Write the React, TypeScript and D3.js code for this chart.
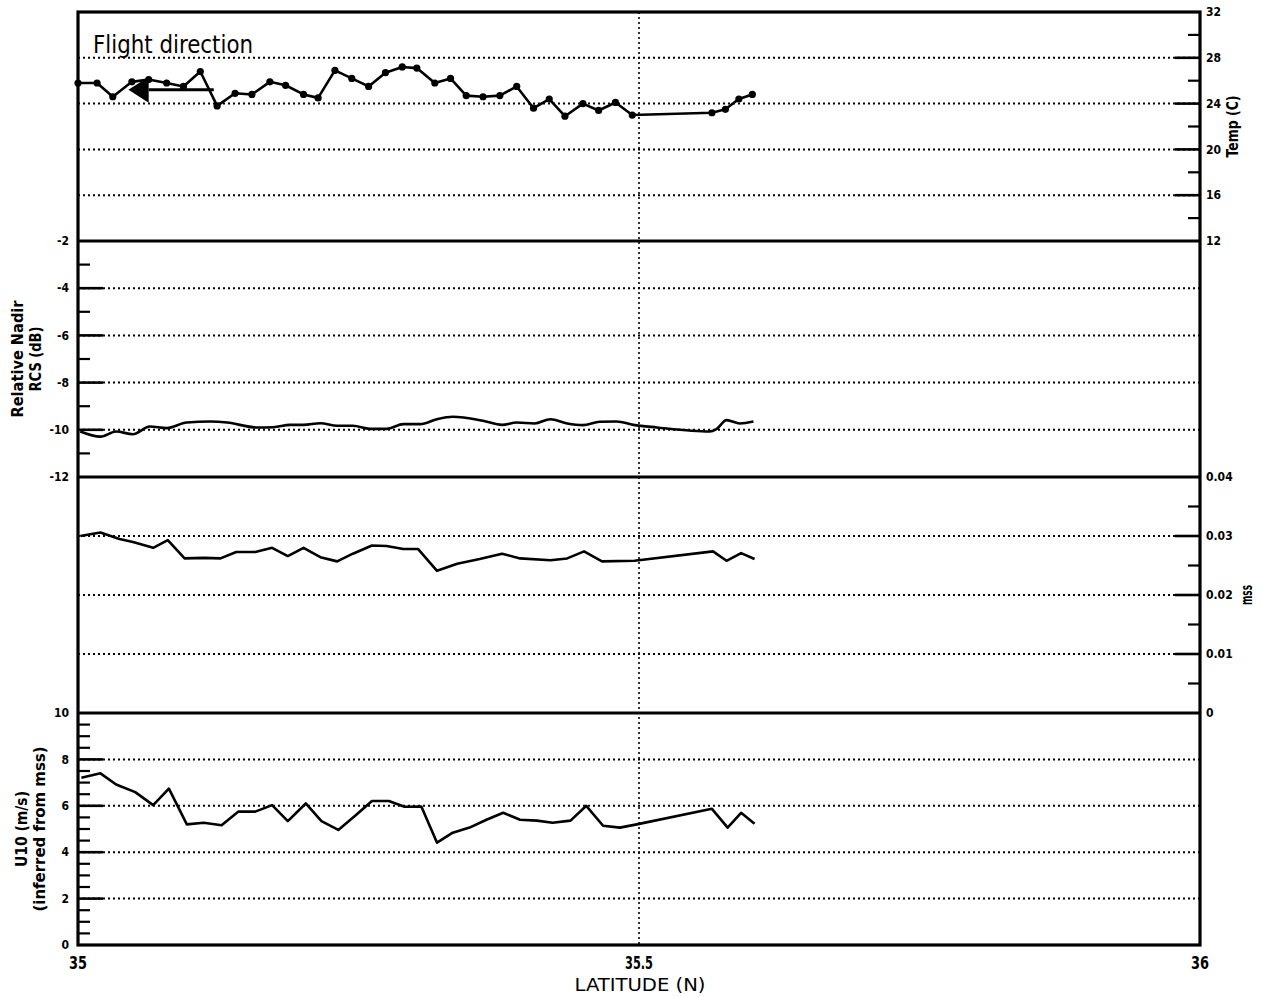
import React from "react";
import * as d3 from "d3";

// Sea surface temperature along the flight track (°C)
const tempLat = [35.0, 35.017, 35.031, 35.048, 35.063, 35.079, 35.094, 35.109, 35.124, 35.14, 35.155, 35.171, 35.185, 35.201, 35.214, 35.229, 35.244, 35.259, 35.274, 35.289, 35.302, 35.318, 35.332, 35.346, 35.361, 35.376, 35.391, 35.406, 35.42, 35.434, 35.45, 35.464, 35.479, 35.494, 35.565, 35.577, 35.589, 35.601];
const tempC = [25.8, 25.8, 24.6, 25.9, 26.1, 25.8, 25.5, 26.8, 23.8, 24.9, 24.8, 25.9, 25.6, 24.8, 24.5, 26.9, 26.2, 25.5, 26.7, 27.2, 27.1, 25.8, 26.2, 24.7, 24.6, 24.7, 25.5, 23.6, 24.4, 22.9, 24.0, 23.4, 24.1, 23.0, 23.2, 23.5, 24.4, 24.8];

// Relative nadir radar cross section (dB)
const rcsLat = [35.002, 35.02, 35.034, 35.049, 35.064, 35.079, 35.097, 35.118, 35.133, 35.159, 35.174, 35.189, 35.201, 35.216, 35.231, 35.245, 35.26, 35.275, 35.29, 35.305, 35.32, 35.334, 35.361, 35.378, 35.391, 35.407, 35.421, 35.436, 35.45, 35.465, 35.48, 35.495, 35.516, 35.563, 35.569, 35.578, 35.59, 35.602];
const rcsDb = [-10.07, -10.29, -10.07, -10.19, -9.86, -9.93, -9.69, -9.65, -9.69, -9.9, -9.89, -9.79, -9.79, -9.72, -9.83, -9.83, -9.96, -9.96, -9.76, -9.76, -9.55, -9.45, -9.62, -9.79, -9.69, -9.73, -9.55, -9.73, -9.8, -9.66, -9.65, -9.79, -9.9, -10.07, -9.97, -9.59, -9.73, -9.65];

// Mean square slope
const mssLat = [35.002, 35.02, 35.037, 35.049, 35.067, 35.08, 35.095, 35.112, 35.127, 35.141, 35.158, 35.173, 35.187, 35.201, 35.216, 35.231, 35.245, 35.262, 35.275, 35.29, 35.303, 35.32, 35.338, 35.358, 35.378, 35.394, 35.421, 35.436, 35.451, 35.467, 35.496, 35.566, 35.578, 35.591, 35.603];
const mssVal = [0.03, 0.0306, 0.0295, 0.029, 0.028, 0.0293, 0.0262, 0.0263, 0.0262, 0.0273, 0.0273, 0.028, 0.0266, 0.028, 0.0264, 0.0257, 0.027, 0.0284, 0.0283, 0.0278, 0.0278, 0.0241, 0.0253, 0.0261, 0.027, 0.0262, 0.0259, 0.0262, 0.0274, 0.0257, 0.0258, 0.0274, 0.0258, 0.0271, 0.0261];

// 10 m wind speed inferred from mss (m/s)
const u10Lat = [35.003, 35.02, 35.034, 35.051, 35.067, 35.081, 35.097, 35.112, 35.128, 35.143, 35.158, 35.173, 35.187, 35.203, 35.217, 35.232, 35.247, 35.262, 35.277, 35.291, 35.306, 35.32, 35.334, 35.349, 35.364, 35.379, 35.394, 35.409, 35.423, 35.439, 35.453, 35.468, 35.483, 35.498, 35.565, 35.579, 35.591, 35.603];
const u10Ms = [7.21, 7.4, 6.92, 6.59, 6.03, 6.74, 5.2, 5.27, 5.16, 5.75, 5.75, 6.03, 5.34, 6.1, 5.34, 4.96, 5.57, 6.21, 6.21, 5.96, 5.97, 4.41, 4.84, 5.06, 5.4, 5.7, 5.4, 5.36, 5.27, 5.36, 6.0, 5.14, 5.06, 5.2, 5.87, 5.06, 5.7, 5.23];

const latTicks = [35, 35.5, 36];
const latTickLabels = ["35", "35.5", "36"];
const tempTicks = [12, 16, 20, 24, 28, 32];
const rcsTicks = [-12, -10, -8, -6, -4, -2];
const mssTicks = [0, 0.01, 0.02, 0.03, 0.04];
const u10Ticks = [0, 2, 4, 6, 8, 10];

// Flight direction arrow (latitude of tip, head base, tail; temperature level)
const arrowLat = [35.045, 35.063, 35.121];
const arrowTemp = 25.2;

const W = 1262;
const H = 997;
const left = 78;
const right = 1200;
const top = 12;
const bottom = 945;
const breaks = [12, 241, 477, 713, 945];

const FONT = "'Liberation Sans Narrow', 'DejaVu Sans Condensed', 'Liberation Sans', sans-serif";

type Panel = {
  key: string;
  y: d3.ScaleLinear<number, number>;
  ticks: number[];
  minorStep: number;
  side: "left" | "right";
  fmt: (v: number) => string;
  titles: { text: string; x: number; len: number }[];
};

const x = d3.scaleLinear().domain([35, 36]).range([left, right]);

const panels: Panel[] = [
  {
    key: "temp",
    y: d3.scaleLinear().domain([12, 32]).range([breaks[1], breaks[0]]),
    ticks: tempTicks,
    minorStep: 2,
    side: "right",
    fmt: (v) => String(v),
    titles: [{ text: "Temp (C)", x: 1238, len: 62 }],
  },
  {
    key: "rcs",
    y: d3.scaleLinear().domain([-12, -2]).range([breaks[2], breaks[1]]),
    ticks: rcsTicks,
    minorStep: 1,
    side: "left",
    fmt: (v) => String(v),
    titles: [
      { text: "Relative Nadir", x: 23, len: 117 },
      { text: "RCS (dB)", x: 41, len: 65 },
    ],
  },
  {
    key: "mss",
    y: d3.scaleLinear().domain([0, 0.04]).range([breaks[3], breaks[2]]),
    ticks: mssTicks,
    minorStep: 0.005,
    side: "right",
    fmt: (v) => (v === 0 ? "0" : v.toFixed(2)),
    titles: [{ text: "mss", x: 1252, len: 20 }],
  },
  {
    key: "u10",
    y: d3.scaleLinear().domain([0, 10]).range([breaks[4], breaks[3]]),
    ticks: u10Ticks,
    minorStep: 0.5,
    side: "left",
    fmt: (v) => String(v),
    titles: [
      { text: "U10 (m/s)", x: 27, len: 76 },
      { text: "(inferred from mss)", x: 45, len: 165 },
    ],
  },
];

function minorTicks(p: Panel): number[] {
  const [lo, hi] = p.y.domain();
  const out: number[] = [];
  const n = Math.round((hi - lo) / p.minorStep);
  for (let i = 1; i < n; i++) {
    const v = lo + i * p.minorStep;
    if (!p.ticks.some((t) => Math.abs(t - v) < p.minorStep / 10)) out.push(v);
  }
  return out;
}

function seriesPath(lat: number[], vals: number[], y: d3.ScaleLinear<number, number>, curve = d3.curveLinear) {
  const pts = lat.map((l, i) => [l, vals[i]] as [number, number]);
  return (
    d3
      .line<[number, number]>()
      .x((d) => x(d[0]))
      .y((d) => y(d[1]))
      .curve(curve)(pts) || ""
  );
}

export default function App() {
  const [pt, pr, pm, pu] = panels;
  const tempPts = tempLat.map((l, i) => [l, tempC[i]] as [number, number]);

  const ax = arrowLat.map((l) => x(l));
  const ay = pt.y(arrowTemp);

  return (
    <svg
      width={W}
      height={H}
      viewBox={`0 0 ${W} ${H}`}
      style={{ position: "absolute", left: 0, top: 0, background: "#fff" }}
      fontFamily={FONT}
    >
      <rect x={0} y={0} width={W} height={H} fill="#fff" />

      {/* dotted gridlines */}
      {panels.map((p) =>
        p.ticks
          .filter((t) => t !== p.y.domain()[0] && t !== p.y.domain()[1])
          .map((t) => (
            <line
              key={`${p.key}-g-${t}`}
              x1={left}
              x2={right}
              y1={p.y(t)}
              y2={p.y(t)}
              stroke="#000"
              strokeWidth={2}
              strokeDasharray="2,3"
            />
          ))
      )}

      {/* 35.5 N reference line */}
      <line
        x1={x(35.5)}
        x2={x(35.5)}
        y1={top}
        y2={bottom}
        stroke="#000"
        strokeWidth={1.6}
        strokeDasharray="2,3"
      />

      {/* series */}
      <path d={seriesPath(tempLat, tempC, pt.y)} fill="none" stroke="#000" strokeWidth={2.6} strokeLinejoin="round" />
      {tempPts.map((d, i) => (
        <circle key={`tp-${i}`} cx={x(d[0])} cy={pt.y(d[1])} r={3.6} fill="#000" />
      ))}
      <path
        d={seriesPath(rcsLat, rcsDb, pr.y, d3.curveMonotoneX)}
        fill="none"
        stroke="#000"
        strokeWidth={2.6}
        strokeLinejoin="round"
      />
      <path d={seriesPath(mssLat, mssVal, pm.y)} fill="none" stroke="#000" strokeWidth={2.6} strokeLinejoin="round" />
      <path d={seriesPath(u10Lat, u10Ms, pu.y)} fill="none" stroke="#000" strokeWidth={2.6} strokeLinejoin="round" />

      {/* flight direction annotation */}
      <text x={93} y={53} fontSize={24} textLength={160} lengthAdjust="spacingAndGlyphs" fill="#000">
        Flight direction
      </text>
      <line x1={ax[1]} x2={ax[2]} y1={ay} y2={ay} stroke="#000" strokeWidth={3} />
      <polygon points={`${ax[0]},${ay} ${ax[1]},${ay - 13} ${ax[1]},${ay + 13}`} fill="#000" />

      {/* frame and panel dividers */}
      <rect x={left} y={top} width={right - left} height={bottom - top} fill="none" stroke="#000" strokeWidth={3.2} />
      {breaks.slice(1, -1).map((b) => (
        <line key={`div-${b}`} x1={left} x2={right} y1={b} y2={b} stroke="#000" strokeWidth={3.2} />
      ))}

      {/* y axes */}
      {panels.map((p) => {
        const isLeft = p.side === "left";
        const x0 = isLeft ? left : right;
        const dir = isLeft ? 1 : -1;
        const [lo, hi] = p.y.domain();
        const mid = (p.y(lo) + p.y(hi)) / 2;
        return (
          <g key={`axis-${p.key}`}>
            {p.ticks
              .filter((t) => t !== lo && t !== hi)
              .map((t) => (
                <line
                  key={`mj-${t}`}
                  x1={x0}
                  x2={x0 + dir * 25}
                  y1={p.y(t)}
                  y2={p.y(t)}
                  stroke="#000"
                  strokeWidth={2.6}
                />
              ))}
            {minorTicks(p).map((t) => (
              <line
                key={`mn-${t}`}
                x1={x0}
                x2={x0 + dir * 12}
                y1={p.y(t)}
                y2={p.y(t)}
                stroke="#000"
                strokeWidth={2.2}
              />
            ))}
            {p.ticks.map((t) => (
              <text
                key={`lb-${t}`}
                x={isLeft ? 69 : 1206}
                y={p.y(t)}
                dy="0.35em"
                textAnchor={isLeft ? "end" : "start"}
                fontSize={12}
                fontWeight="bold"
                fill="#000"
              >
                {p.fmt(t)}
              </text>
            ))}
            {p.titles.map((tt) => (
              <text
                key={`tt-${tt.text}`}
                transform={`translate(${tt.x},${mid}) rotate(-90)`}
                textAnchor="middle"
                fontSize={16}
                fontWeight="bold"
                textLength={tt.len}
                lengthAdjust="spacingAndGlyphs"
                fill="#000"
              >
                {tt.text}
              </text>
            ))}
          </g>
        );
      })}

      {/* latitude axis */}
      {latTicks.map((t, i) => (
        <text
          key={`lat-${t}`}
          x={x(t)}
          y={969}
          textAnchor="middle"
          fontSize={17}
          fontWeight="bold"
          textLength={latTickLabels[i].length > 2 ? 28 : 18}
          lengthAdjust="spacingAndGlyphs"
          fill="#000"
        >
          {latTickLabels[i]}
        </text>
      ))}
      <text
        x={x(35.5) + 1}
        y={991}
        textAnchor="middle"
        fontSize={18}
        textLength={131}
        lengthAdjust="spacingAndGlyphs"
        fill="#000"
      >
        LATITUDE (N)
      </text>
    </svg>
  );
}
